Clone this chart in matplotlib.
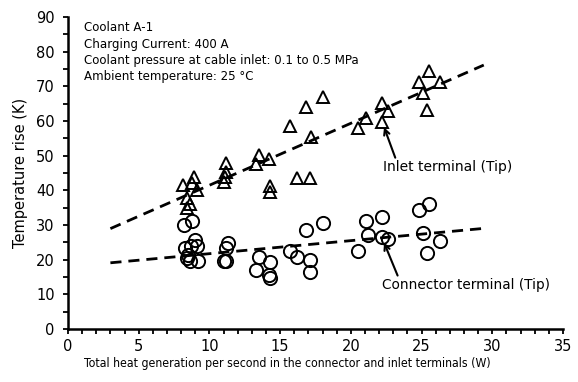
import numpy as np
import matplotlib
matplotlib.use('Agg')
import matplotlib.pyplot as plt
from matplotlib.ticker import MultipleLocator

# inlet terminal (tip), triangles
inlet_x = [8.1, 8.9, 8.8, 9.1, 8.4, 8.6, 8.4, 11.2, 11.2, 11.1, 11.0, 13.5, 13.3, 14.2,
           14.3, 14.3, 16.2, 17.1, 15.7, 16.8, 18.0, 17.2, 20.5, 21.1, 22.2, 22.6, 22.2,
           24.8, 25.5, 26.3, 25.1, 25.4]
inlet_y = [41.5, 43.9, 42.0, 40.1, 37.7, 36.2, 34.8, 48.0, 45.4, 43.9, 42.5, 50.2, 47.6, 48.9,
           41.3, 39.6, 43.7, 43.7, 58.6, 63.9, 66.8, 55.5, 57.9, 60.9, 65.1, 62.9, 59.8,
           71.3, 74.5, 71.3, 68.0, 63.2]

# connector terminal (tip), circles
conn_x = [8.2, 8.8, 9.0, 8.3, 8.7, 9.1, 8.5, 8.4, 8.6, 9.2, 11.3, 11.2, 11.0, 11.2,
          13.5, 14.3, 13.3, 14.2, 14.3, 15.7, 16.2, 16.8, 17.1, 17.1, 18.0, 20.5, 21.2,
          21.1, 22.2, 22.2, 22.6, 24.8, 25.5, 25.1, 26.3, 25.4]
conn_y = [30.0, 31.2, 25.7, 23.3, 23.9, 23.9, 21.3, 20.4, 19.7, 19.7, 24.9, 23.5, 19.7, 19.7,
          20.9, 19.4, 17.0, 15.6, 14.6, 22.5, 20.7, 28.6, 19.9, 16.5, 30.5, 22.6, 27.1,
          31.2, 32.2, 26.6, 25.9, 34.3, 36.0, 27.8, 25.5, 21.8]

# linear trend lines: slope, intercept
inlet_fit = [1.787, 23.6]
conn_fit = [0.376, 17.97]
fit_range = [3.0, 29.4]

notes = ["Coolant A-1",
         "Charging Current: 400 A",
         "Coolant pressure at cable inlet: 0.1 to 0.5 MPa",
         "Ambient temperature: 25 \u00b0C"]

fig = plt.figure(figsize=(5.78, 3.82), dpi=100)
ax = fig.add_axes([0.1176, 0.1387, 0.8564, 0.8168])

ax.plot(inlet_x, inlet_y, linestyle='none', marker='^', markersize=9,
        markerfacecolor='none', markeredgecolor='black', markeredgewidth=1.4)
ax.plot(conn_x, conn_y, linestyle='none', marker='o', markersize=9.5,
        markerfacecolor='none', markeredgecolor='black', markeredgewidth=1.4)

xx = np.array(fit_range)
ax.plot(xx, inlet_fit[0]*xx + inlet_fit[1], color='black', linestyle=(0, (4, 2.5)), linewidth=2)
ax.plot(xx, conn_fit[0]*xx + conn_fit[1], color='black', linestyle=(0, (4, 2.5)), linewidth=2)

ax.annotate("Inlet terminal (Tip)", xy=(22.35, 58.2), xytext=(22.3, 46.6),
            fontsize=10, ha='left', va='center',
            arrowprops=dict(arrowstyle='->', color='black', lw=1.5, shrinkA=0, shrinkB=0,
                            relpos=(0.1, 1.0)))
ax.annotate("Connector terminal (Tip)", xy=(22.35, 24.9), xytext=(22.2, 12.6),
            fontsize=9.8, ha='left', va='center',
            arrowprops=dict(arrowstyle='->', color='black', lw=1.5, shrinkA=0, shrinkB=0,
                            relpos=(0.1, 1.0)))

ax.text(1.15, 88.8, "\n".join(notes), fontsize=9.45, fontstretch='condensed',
        ha='left', va='top', linespacing=1.34)

ax.set_xlim(0, 35)
ax.set_ylim(0, 90)
ax.xaxis.set_major_locator(MultipleLocator(5))
ax.xaxis.set_minor_locator(MultipleLocator(1))
ax.yaxis.set_major_locator(MultipleLocator(10))
ax.yaxis.set_minor_locator(MultipleLocator(5))
ax.tick_params(which='both', direction='out', length=3.5, width=1.3, labelsize=10.5)
ax.tick_params(axis='y', pad=6)
ax.spines['top'].set_visible(False)
ax.spines['right'].set_visible(False)
ax.spines['left'].set_linewidth(1.8)
ax.spines['bottom'].set_linewidth(1.8)

ax.set_xlabel("Total heat generation per second in the connector and inlet terminals (W)",
              fontsize=8.8, fontstretch='condensed', x=0.443, labelpad=2.5)
ax.set_ylabel("Temperature rise (K)", fontsize=10.5, labelpad=6)

fig.savefig("out.png", dpi=100)
